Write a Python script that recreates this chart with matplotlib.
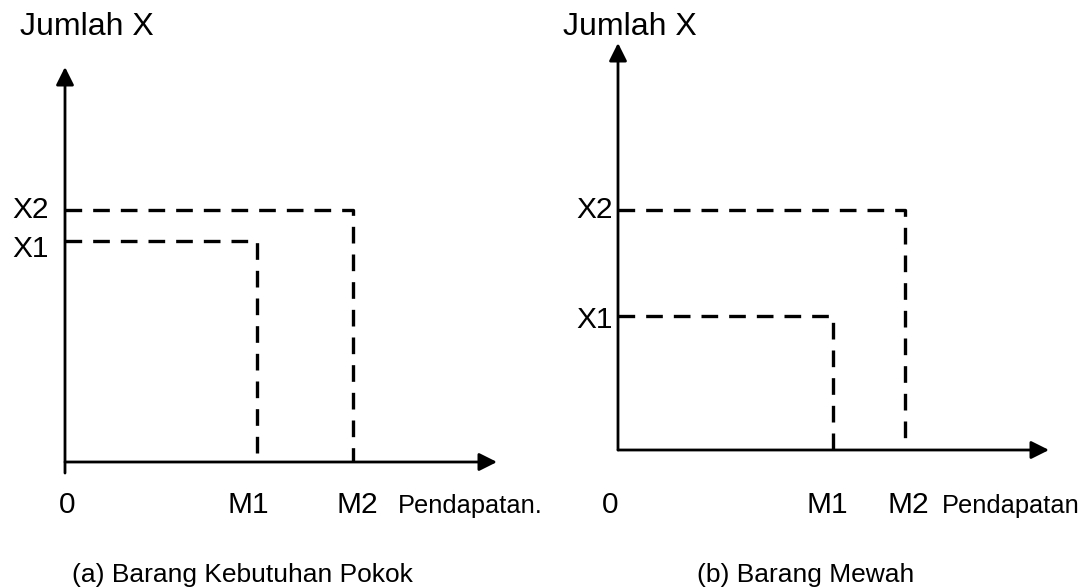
import matplotlib
matplotlib.use("Agg")
import matplotlib.pyplot as plt

plt.rcParams['font.family'] = ['Liberation Sans', 'DejaVu Sans']

# --- data (axis units: 0..10 from origin to arrow tip)
panels      = ["a", "b"]
titles      = ["(a) Barang Kebutuhan Pokok", "(b) Barang Mewah"]
xlabels     = ["Pendapatan.", "Pendapatan"]
ylabels     = ["Jumlah X", "Jumlah X"]
m_vals      = [[4.44, 6.67], [4.99, 6.66]]     # M1, M2
x_vals      = [[5.59, 6.38], [3.29, 5.90]]     # X1, X2
m_names     = ["M1", "M2"]
x_names     = ["X1", "X2"]

# --- layout (pixels)
W, H = 1089, 588
origin  = [(65, 462), (618, 450)]
tips    = [(497, 67), (1049, 43)]
ytail   = [-0.28, 0.0]
zero_dx = [2, -8]
m_dx    = [[-8, 4], [-6, 3]]
x_left  = [12, 576]
x_base  = [[16, 8], [12, 8]]
lab_x   = [[20, 398, 72], [563, 942, 697]]

fig = plt.figure(figsize=(W / 100, H / 100), dpi=100)
fig.patch.set_facecolor("white")

arrow = dict(arrowstyle="-|>,head_length=0.6,head_width=0.3", mutation_scale=18,
             lw=2.0, color="black", shrinkA=0, shrinkB=0)
dash = dict(color="black", lw=2.4, ls=(0, (5, 3.3)), dash_capstyle="butt")

for i, p in enumerate(panels):
    ox, oy = origin[i]
    tx, ty = tips[i]
    ax = fig.add_axes([ox / W, 1 - oy / H, (tx - ox) / W, (oy - ty) / H])
    ax.set_xlim(0, 10)
    ax.set_ylim(0, 10)
    ax.axis("off")

    # axes with arrows
    ax.annotate("", xy=(0, 10), xytext=(0, ytail[i]), arrowprops=arrow,
                annotation_clip=False)
    ax.annotate("", xy=(10, 0), xytext=(0, 0), arrowprops=arrow,
                annotation_clip=False)

    # dashed guide lines
    for m, x in zip(m_vals[i], x_vals[i]):
        ax.plot([0, m, m], [x, x, 0], clip_on=False, **dash)

    # tick labels
    ax.annotate("0", xy=(0, 0), xytext=(zero_dx[i], -(513 - oy)),
                textcoords="offset pixels", ha="center", va="baseline", fontsize=21.5)
    for k, m in enumerate(m_vals[i]):
        ax.annotate(m_names[k], xy=(m, 0), xytext=(m_dx[i][k], -(513 - oy)),
                    textcoords="offset pixels", ha="center", va="baseline", fontsize=21.5)
    for k, x in enumerate(x_vals[i]):
        ax.annotate(x_names[k], xy=(0, x), xytext=(x_left[i] - ox, -x_base[i][k]),
                    textcoords="offset pixels", ha="left", va="baseline", fontsize=21.5)

    # axis titles and caption
    fig.text(lab_x[i][0] / W, 1 - 35 / H, ylabels[i], ha="left", va="baseline", fontsize=23)
    fig.text(lab_x[i][1] / W, 1 - 513 / H, xlabels[i], ha="left", va="baseline", fontsize=18.3)
    fig.text(lab_x[i][2] / W, 1 - 582 / H, titles[i], ha="left", va="baseline", fontsize=19)

fig.savefig("out.png", dpi=100)
